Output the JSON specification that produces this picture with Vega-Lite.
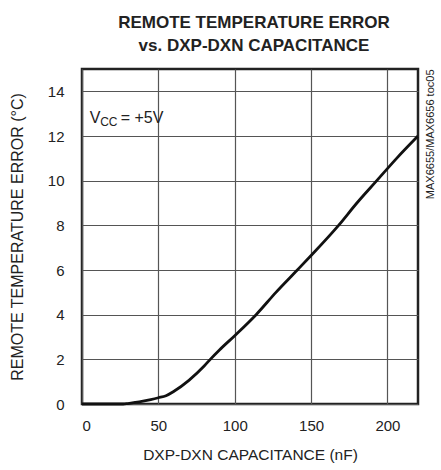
{
  "$schema": "https://vega.github.io/schema/vega-lite/v6.json",
  "width": 336,
  "height": 335,
  "autosize": "none",
  "padding": {"left": 82, "top": 69, "right": 23, "bottom": 66},
  "background": "white",
  "title": {
    "text": ["REMOTE TEMPERATURE ERROR", "vs. DXP-DXN CAPACITANCE"],
    "font": "Liberation Sans",
    "fontSize": 17,
    "fontWeight": "bold",
    "color": "#222222",
    "anchor": "middle",
    "lineHeight": 23,
    "offset": 14,
    "dx": 4
  },
  "config": {
    "view": {"stroke": "#222222", "strokeWidth": 2.5},
    "axis": {
      "labelFont": "Liberation Sans",
      "titleFont": "Liberation Sans",
      "labelFontSize": 15,
      "titleFontSize": 15.5,
      "labelColor": "#222222",
      "titleColor": "#222222",
      "titleFontWeight": "normal",
      "ticks": false,
      "domain": false,
      "gridColor": "#555555",
      "gridOpacity": 1,
      "gridWidth": 1.2
    }
  },
  "data": {
    "values": [
      {"c": 0, "e": 0},
      {"c": 27, "e": 0},
      {"c": 30, "e": 0.02},
      {"c": 35, "e": 0.07},
      {"c": 40, "e": 0.13},
      {"c": 45, "e": 0.2},
      {"c": 50, "e": 0.28},
      {"c": 55, "e": 0.37},
      {"c": 60, "e": 0.56},
      {"c": 70, "e": 1.06},
      {"c": 80, "e": 1.7},
      {"c": 84, "e": 2.0},
      {"c": 90, "e": 2.42},
      {"c": 100, "e": 3.06},
      {"c": 114, "e": 4.0},
      {"c": 127, "e": 5.0},
      {"c": 141, "e": 6.0},
      {"c": 150, "e": 6.65},
      {"c": 168, "e": 8.0},
      {"c": 180, "e": 9.0},
      {"c": 193, "e": 10.0},
      {"c": 206, "e": 11.0},
      {"c": 220, "e": 12.0}
    ]
  },
  "layer": [
    {
      "mark": {"type": "line", "color": "#111111", "strokeWidth": 2.8, "interpolate": "monotone"},
      "encoding": {
        "x": {
          "field": "c", "type": "quantitative",
          "scale": {"domain": [0, 220], "nice": false},
          "axis": {"values": [0, 50, 100, 150, 200], "title": "DXP-DXN CAPACITANCE (nF)", "labelPadding": 14, "titlePadding": 14}
        },
        "y": {
          "field": "e", "type": "quantitative",
          "scale": {"domain": [0, 15], "nice": false},
          "axis": {"values": [0, 2, 4, 6, 8, 10, 12, 14], "title": "REMOTE TEMPERATURE ERROR (°C)", "titleFontSize": 16, "labelPadding": 18, "titlePadding": 22}
        }
      }
    },
    {
      "mark": {"type": "line", "opacity": 0},
      "encoding": {
        "x": {"field": "c", "type": "quantitative"},
        "y": {
          "field": "e", "type": "quantitative",
          "axis": {"orient": "right", "labels": false, "grid": false, "title": "MAX6655/MAX6656 toc05", "titleFontSize": 11, "titleAngle": 270, "titleAnchor": "end", "titlePadding": 6, "titleBaseline": "top"}
        }
      }
    },
    {
      "data": {"values": [{"label": "V"}]},
      "mark": {"type": "text", "font": "Liberation Sans", "fontSize": 16, "align": "left", "baseline": "alphabetic", "color": "#222222"},
      "encoding": {"x": {"datum": 5}, "y": {"datum": 12.6, "axis": null}, "text": {"field": "label"}}
    },
    {
      "data": {"values": [{"label": "CC"}]},
      "mark": {"type": "text", "font": "Liberation Sans", "fontSize": 12, "align": "left", "baseline": "alphabetic", "color": "#222222", "dx": 10.5, "dy": 3},
      "encoding": {"x": {"datum": 5}, "y": {"datum": 12.6, "axis": null}, "text": {"field": "label"}}
    },
    {
      "data": {"values": [{"label": "= +5V"}]},
      "mark": {"type": "text", "font": "Liberation Sans", "fontSize": 16, "align": "left", "baseline": "alphabetic", "color": "#222222", "dx": 31},
      "encoding": {"x": {"datum": 5}, "y": {"datum": 12.6, "axis": null}, "text": {"field": "label"}}
    }
  ],
  "resolve": {"axis": {"y": "independent"}}
}
